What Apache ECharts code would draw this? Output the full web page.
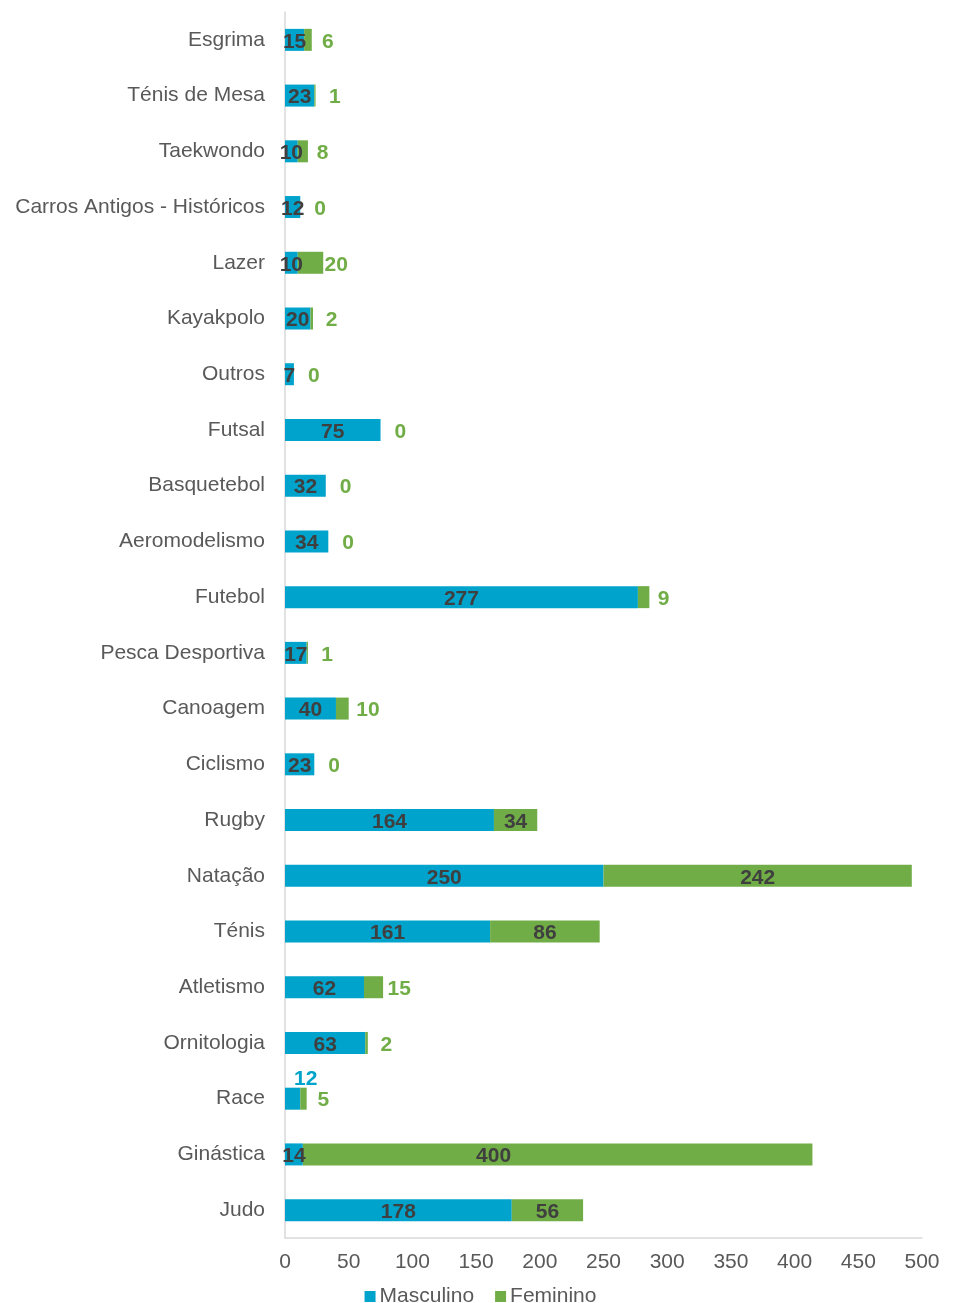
<!DOCTYPE html>
<html>
<head>
<meta charset="utf-8">
<script src="https://cdn.jsdelivr.net/npm/echarts@6/dist/echarts.min.js"></script>
<style>
  html, body { margin: 0; padding: 0; background: #fff; }
  #chart { width: 961px; height: 1303px; }
</style>
</head>
<body>
<div id="chart"></div>
<script>
// Modalidades (top to bottom) and athletes per gender
const categories = [
  'Esgrima', 'Ténis de Mesa', 'Taekwondo', 'Carros Antigos - Históricos', 'Lazer',
  'Kayakpolo', 'Outros', 'Futsal', 'Basquetebol', 'Aeromodelismo', 'Futebol',
  'Pesca Desportiva', 'Canoagem', 'Ciclismo', 'Rugby', 'Natação', 'Ténis',
  'Atletismo', 'Ornitologia', 'Race', 'Ginástica', 'Judo'
];
const masculino = [15, 23, 10, 12, 10, 20, 7, 75, 32, 34, 277, 17, 40, 23, 164, 250, 161, 62, 63, 12, 14, 178];
const feminino  = [6, 1, 8, 0, 20, 2, 0, 0, 0, 0, 9, 1, 10, 0, 34, 242, 86, 15, 2, 5, 400, 56];
const seriesNames = ['Masculino', 'Feminino'];
const xTicks = { min: 0, max: 500, interval: 50 };

const BLUE = '#00A3CB';
const GREEN = '#70AD47';
const DARK = '#3F3F3F';
const GREY = '#595959';
const FONT = '"Liberation Sans", Arial, sans-serif';

// Masculino label for Race sits above its short segment
const raisedLabelCategory = 'Race';
// Ginástica's long feminino label is pulled left of the segment centre
const shiftedLabelCategory = 'Ginástica';

const mascData = masculino.map((v, i) => {
  if (categories[i] === raisedLabelCategory) {
    return {
      value: v,
      label: { position: 'top', color: BLUE, offset: [13, 2], distance: 0 }
    };
  }
  return v;
});

// Feminino: wide segments get a centred dark label, narrow ones a green label beside them
const femData = feminino.map((v, i) => {
  if (v >= 30) {
    const shift = categories[i] === shiftedLabelCategory ? -64 : 0;
    return { value: v, label: { position: 'inside', color: DARK, offset: [shift, 2] } };
  }
  return {
    value: v,
    label: {
      position: ['50%', '50%'],
      align: 'left',
      verticalAlign: 'middle',
      offset: [14, 2],
      color: GREEN
    }
  };
});

const chart = echarts.init(document.getElementById('chart'), null, { renderer: 'canvas' });

chart.setOption({
  animation: false,
  textStyle: { fontFamily: FONT },
  grid: { left: 285, right: 39, top: 12, bottom: 65, containLabel: false },
  legend: {
    data: seriesNames,
    top: 1281,
    left: 'center',
    itemWidth: 11,
    itemHeight: 11,
    itemGap: 21,
    icon: 'rect',
    textStyle: { fontSize: 21, color: GREY, fontFamily: FONT, padding: [0, 0, 0, -1] }
  },
  xAxis: {
    type: 'value',
    min: xTicks.min,
    max: xTicks.max,
    interval: xTicks.interval,
    axisLine: { show: true, lineStyle: { color: '#D9D9D9', width: 1.5 } },
    axisTick: { show: false },
    splitLine: { show: false },
    axisLabel: { fontSize: 21, color: GREY, margin: 14, fontFamily: FONT }
  },
  yAxis: {
    type: 'category',
    data: categories,
    inverse: true,
    axisLine: { show: true, lineStyle: { color: '#D9D9D9', width: 1.5 } },
    axisTick: { show: false },
    axisLabel: { fontSize: 21, color: GREY, margin: 20, fontFamily: FONT }
  },
  series: [
    {
      name: seriesNames[0],
      type: 'bar',
      stack: 'total',
      barWidth: 22,
      itemStyle: { color: BLUE },
      label: {
        show: true,
        position: 'inside',
        offset: [0, 2],
        color: DARK,
        fontSize: 21,
        fontWeight: 'bold',
        fontFamily: FONT
      },
      data: mascData
    },
    {
      name: seriesNames[1],
      type: 'bar',
      stack: 'total',
      barWidth: 22,
      itemStyle: { color: GREEN },
      label: {
        show: true,
        fontSize: 21,
        fontWeight: 'bold',
        fontFamily: FONT
      },
      data: femData
    }
  ]
});
</script>
</body>
</html>
